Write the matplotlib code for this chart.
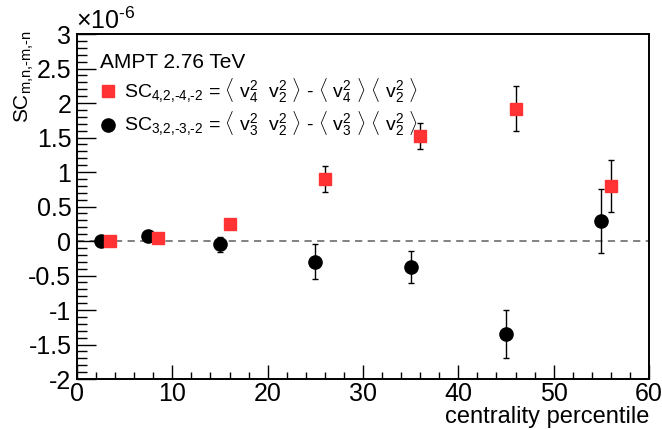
import matplotlib
matplotlib.use("Agg")
import matplotlib.pyplot as plt
from matplotlib.lines import Line2D
from matplotlib.ticker import MultipleLocator

# SC(3,2,-3,-2), units of 1e-6
x32 = [2.5, 7.5, 15, 25, 35, 45, 55]
y32 = [0.0, 0.07, -0.05, -0.30, -0.38, -1.35, 0.29]
e32 = [0.03, 0.07, 0.11, 0.25, 0.23, 0.35, 0.46]

# SC(4,2,-4,-2)
x42 = [3.5, 8.5, 16, 26, 36, 46, 56]
y42 = [0.0, 0.05, 0.24, 0.90, 1.52, 1.92, 0.80]
e42 = [0.02, 0.03, 0.04, 0.19, 0.19, 0.32, 0.38]

RED = "#ff3333"

plt.rcParams.update({
    "font.family": ["Liberation Sans", "DejaVu Sans"],
    "mathtext.fontset": "custom",
    "mathtext.rm": "Liberation Sans",
    "mathtext.it": "Liberation Sans",
    "mathtext.bf": "Liberation Sans:bold",
})

fig = plt.figure(figsize=(6.62, 4.30), dpi=100)
ax = fig.add_axes([0.1163, 0.1186, 0.8641, 0.8023])

ax.axhline(0, color="#777777", lw=1.3, ls=(0, (4, 3)), zorder=1)

ax.errorbar(x32, y32, yerr=e32, fmt="o", color="black", ms=9.5, ecolor="black",
            elinewidth=1.0, capsize=2.5, capthick=1.0, zorder=3)
ax.errorbar(x42, y42, yerr=e42, fmt="s", color=RED, mec=RED, ms=9, ecolor="black",
            elinewidth=1.0, capsize=2.5, capthick=1.0, zorder=3)

ax.set_xlim(0, 60)
ax.set_ylim(-2, 3)
ax.xaxis.set_major_locator(MultipleLocator(10))
ax.xaxis.set_minor_locator(MultipleLocator(2))
ax.yaxis.set_major_locator(MultipleLocator(0.5))
ax.yaxis.set_minor_locator(MultipleLocator(0.1))
ax.yaxis.set_major_formatter(plt.FuncFormatter(lambda v, p: ("%g" % v)))
ax.tick_params(which="both", direction="in", top=False, right=False, labelsize=18)
ax.tick_params(axis="y", which="major", length=14, width=1, pad=4)
ax.tick_params(axis="y", which="minor", length=7, width=1)
ax.tick_params(axis="x", which="major", length=10, width=1, pad=2.5)
ax.tick_params(axis="x", which="minor", length=5, width=1)
for s in ax.spines.values():
    s.set_linewidth(1.4)

ax.set_xlabel("centrality percentile", loc="right", fontsize=17, labelpad=-0.5)
ax.set_ylabel(r"SC$_\text{m,n,-m,-n}$", loc="top", fontsize=15)
ax.yaxis.set_label_coords(-0.072, 1.01)
ax.text(-0.002, 1.0, r"$\times$10$^\text{-6}$", transform=ax.transAxes, fontsize=18,
        ha="left", va="bottom")

handles = [
    Line2D([], [], marker="s", color=RED, ls="none", ms=9),
    Line2D([], [], marker="o", color="black", ls="none", ms=9.5),
]
labels = [
    r"SC$_\text{4,2,-4,-2}$ = $\langle$ v$_\text{4}^\text{2}$  v$_\text{2}^\text{2}$ $\rangle$ - $\langle$ v$_\text{4}^\text{2}$ $\rangle$ $\langle$ v$_\text{2}^\text{2}$ $\rangle$",
    r"SC$_\text{3,2,-3,-2}$ = $\langle$ v$_\text{3}^\text{2}$  v$_\text{2}^\text{2}$ $\rangle$ - $\langle$ v$_\text{3}^\text{2}$ $\rangle$ $\langle$ v$_\text{2}^\text{2}$ $\rangle$",
]
leg = ax.legend(handles, labels, title="AMPT 2.76 TeV", loc="upper left",
                frameon=False, fontsize=14, title_fontsize=15, alignment="left",
                handlelength=0.8, handletextpad=0.45, labelspacing=0.25,
                borderaxespad=0.0, borderpad=0.0, bbox_to_anchor=(0.04, 0.945))

fig.savefig("out.png", dpi=100)
